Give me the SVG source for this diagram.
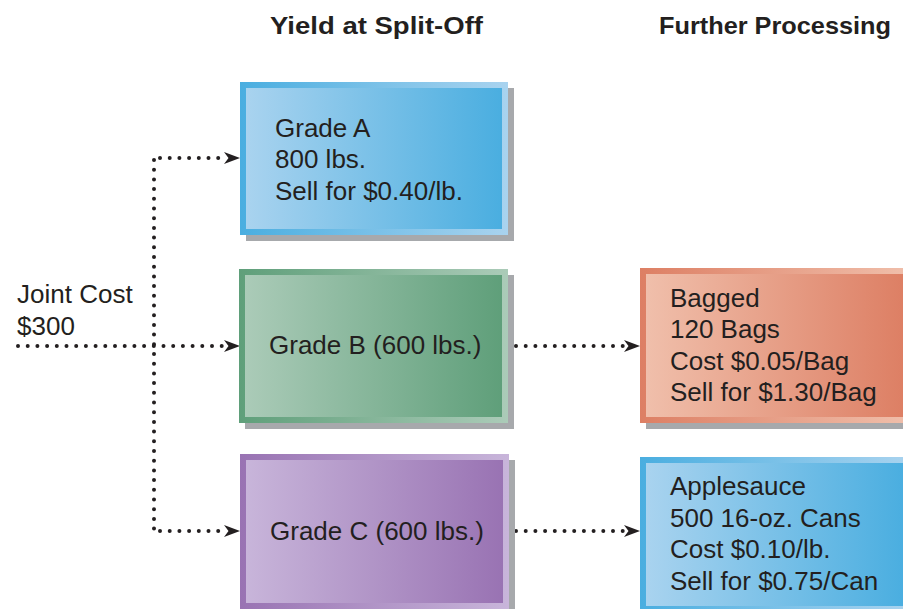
<svg xmlns="http://www.w3.org/2000/svg" width="903" height="609" viewBox="0 0 903 609">
<style>
.t{font-family:"Liberation Sans",Arial,sans-serif;font-size:26px;fill:#231f20}
.h{font-family:"Liberation Sans",Arial,sans-serif;font-size:24px;font-weight:bold;fill:#231f20}
.dot{fill:none;stroke:#231f20;stroke-width:4;stroke-linecap:round;stroke-dasharray:0 9.7}
.sh{fill:#a7a9ac}
</style>
<defs>
<linearGradient id="blueIn" x1="0" x2="1" y1="0" y2="0"><stop offset="0" stop-color="#a9d3ef"/><stop offset="1" stop-color="#4aaee0"/></linearGradient>
<linearGradient id="blueOut" x1="0" x2="1" y1="0" y2="0"><stop offset="0" stop-color="#4aaee0"/><stop offset="1" stop-color="#a9d3ef"/></linearGradient>
<linearGradient id="greenIn" x1="0" x2="1" y1="0" y2="0"><stop offset="0" stop-color="#abcbb8"/><stop offset="1" stop-color="#5f9f7a"/></linearGradient>
<linearGradient id="greenOut" x1="0" x2="1" y1="0" y2="0"><stop offset="0" stop-color="#5f9f7a"/><stop offset="1" stop-color="#abcbb8"/></linearGradient>
<linearGradient id="purpIn" x1="0" x2="1" y1="0" y2="0"><stop offset="0" stop-color="#c8b5da"/><stop offset="1" stop-color="#9973b3"/></linearGradient>
<linearGradient id="purpOut" x1="0" x2="1" y1="0" y2="0"><stop offset="0" stop-color="#9973b3"/><stop offset="1" stop-color="#c8b5da"/></linearGradient>
<linearGradient id="redIn" x1="0" x2="1" y1="0" y2="0"><stop offset="0" stop-color="#f0bfab"/><stop offset="1" stop-color="#dd7f64"/></linearGradient>
<linearGradient id="redOut" x1="0" x2="1" y1="0" y2="0"><stop offset="0" stop-color="#dd7f64"/><stop offset="1" stop-color="#f0bfab"/></linearGradient>
<marker id="arr" viewBox="0 0 16 12" refX="16" refY="6" markerWidth="16" markerHeight="12" markerUnits="userSpaceOnUse" orient="auto">
<path d="M0,0 L16,6 L0,12 L4.5,6 Z" fill="#231f20"/>
</marker>
</defs>

<text class="h" x="270" y="34" textLength="213" lengthAdjust="spacingAndGlyphs">Yield at Split-Off</text>
<text class="h" x="659" y="34" textLength="232" lengthAdjust="spacingAndGlyphs">Further Processing</text>

<g id="joint-cost">
<text class="t" x="17" y="303">Joint Cost</text>
<text class="t" x="17" y="335">$300</text>
</g>

<g id="connectors">
<path class="dot" d="M18,346 H224"/>
<path class="dot" d="M154,160 V530"/>
<path class="dot" d="M160,158 H224"/>
<path class="dot" d="M160,531 H224"/>
<path class="dot" d="M516,346 H624"/>
<path class="dot" d="M516,531 H624"/>
<path d="M224,158 H240" stroke="none" fill="none" marker-end="url(#arr)"/>
<path d="M224,346 H240" stroke="none" fill="none" marker-end="url(#arr)"/>
<path d="M224,531 H240" stroke="none" fill="none" marker-end="url(#arr)"/>
<path d="M624,346 H640" stroke="none" fill="none" marker-end="url(#arr)"/>
<path d="M624,531 H640" stroke="none" fill="none" marker-end="url(#arr)"/>
</g>

<g id="grade-a">
<rect class="sh" x="246" y="88" width="268" height="153"/>
<rect x="240" y="82" width="268" height="153" fill="url(#blueOut)"/>
<rect x="246" y="88" width="256" height="141" fill="url(#blueIn)"/>
<text class="t" x="275" y="137">Grade A</text>
<text class="t" x="275" y="168">800 lbs.</text>
<text class="t" x="275" y="200">Sell for $0.40/lb.</text>
</g>

<g id="grade-b">
<rect class="sh" x="245" y="275" width="269" height="154"/>
<rect x="239" y="269" width="269" height="154" fill="url(#greenOut)"/>
<rect x="245" y="275" width="257" height="142" fill="url(#greenIn)"/>
<text class="t" x="269" y="354">Grade B (600 lbs.)</text>
</g>

<g id="grade-c">
<rect class="sh" x="246" y="460" width="269" height="155"/>
<rect x="240" y="454" width="269" height="155" fill="url(#purpOut)"/>
<rect x="246" y="460" width="257" height="143" fill="url(#purpIn)"/>
<text class="t" x="270" y="540">Grade C (600 lbs.)</text>
</g>

<g id="bagged">
<rect class="sh" x="646" y="274" width="270" height="155"/>
<rect x="640" y="268" width="270" height="155" fill="url(#redOut)"/>
<rect x="646" y="274" width="258" height="143" fill="url(#redIn)"/>
<text class="t" x="670" y="307">Bagged</text>
<text class="t" x="670" y="338">120 Bags</text>
<text class="t" x="670" y="370">Cost $0.05/Bag</text>
<text class="t" x="670" y="401">Sell for $1.30/Bag</text>
</g>

<g id="applesauce">
<rect class="sh" x="646" y="463" width="270" height="155"/>
<rect x="640" y="457" width="270" height="155" fill="url(#blueOut)"/>
<rect x="646" y="463" width="258" height="143" fill="url(#blueIn)"/>
<text class="t" x="670" y="495">Applesauce</text>
<text class="t" x="670" y="527">500 16-oz. Cans</text>
<text class="t" x="670" y="558">Cost $0.10/lb.</text>
<text class="t" x="670" y="590">Sell for $0.75/Can</text>
</g>
</svg>
